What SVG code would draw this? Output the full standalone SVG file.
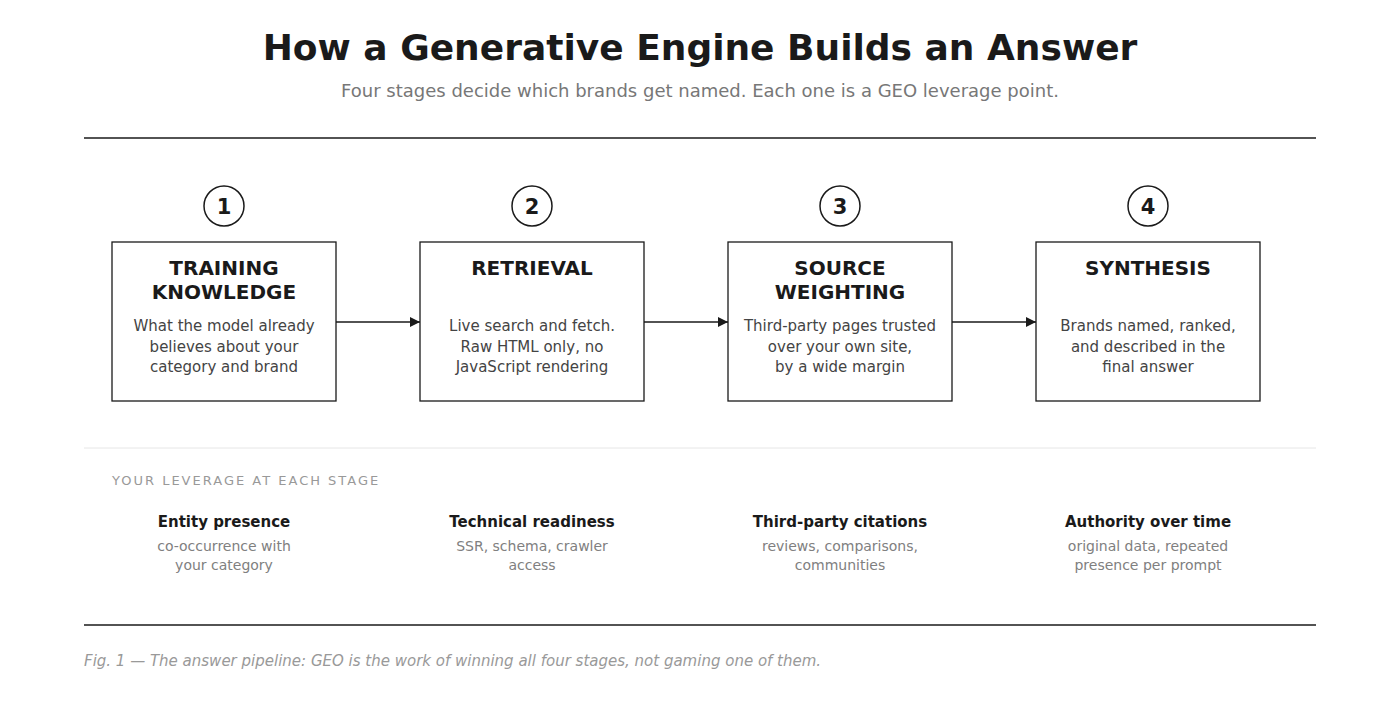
<svg xmlns="http://www.w3.org/2000/svg" width="1400" height="728" viewBox="0 0 1400 728">
<style>
text{font-family:"DejaVu Sans","Noto Sans",sans-serif;text-anchor:middle}
.t{font-size:36px;font-weight:bold;fill:#1a1a1a}
.sub{font-size:18px;fill:#777}
.num{font-size:21px;font-weight:bold;fill:#1a1a1a}
.h{font-size:20px;font-weight:bold;fill:#1a1a1a}
.b{font-size:15px;fill:#444}
.lh{font-size:15px;font-weight:bold;fill:#1a1a1a}
.ls{font-size:14px;fill:#808080}
.box{fill:#fff;stroke:#1a1a1a;stroke-width:1.3}
.circ{fill:#fff;stroke:#1a1a1a;stroke-width:1.5}
.conn{stroke:#1a1a1a;stroke-width:1.3;fill:none}
</style>
<defs><marker id="ar" markerWidth="10" markerHeight="10" refX="10" refY="5" orient="auto" markerUnits="userSpaceOnUse"><path d="M0,0 L10,5 L0,10 Z" fill="#1a1a1a"/></marker></defs>
<rect width="1400" height="728" fill="#fff"/>
<text class="t" x="700" y="60">How a Generative Engine Builds an Answer</text>
<text class="sub" x="700" y="97">Four stages decide which brands get named. Each one is a GEO leverage point.</text>
<line x1="84" y1="138" x2="1316" y2="138" stroke="#1a1a1a" stroke-width="1.5"/>
<g id="connectors">
<line class="conn" x1="336" y1="322" x2="420" y2="322" marker-end="url(#ar)"/>
<line class="conn" x1="644" y1="322" x2="728" y2="322" marker-end="url(#ar)"/>
<line class="conn" x1="952" y1="322" x2="1036" y2="322" marker-end="url(#ar)"/>
</g>
<g id="n1"><circle class="circ" cx="224" cy="206" r="20"/><text class="num" x="224" y="214">1</text>
<rect class="box" x="112" y="242" width="224" height="159"/>
<text class="h" x="224" y="275">TRAINING</text><text class="h" x="224" y="299">KNOWLEDGE</text>
<text class="b" x="224" y="331">What the model already</text><text class="b" x="224" y="352">believes about your</text><text class="b" x="224" y="372">category and brand</text></g>
<g id="n2"><circle class="circ" cx="532" cy="206" r="20"/><text class="num" x="532" y="214">2</text>
<rect class="box" x="420" y="242" width="224" height="159"/>
<text class="h" x="532" y="275">RETRIEVAL</text>
<text class="b" x="532" y="331">Live search and fetch.</text><text class="b" x="532" y="352">Raw HTML only, no</text><text class="b" x="532" y="372">JavaScript rendering</text></g>
<g id="n3"><circle class="circ" cx="840" cy="206" r="20"/><text class="num" x="840" y="214">3</text>
<rect class="box" x="728" y="242" width="224" height="159"/>
<text class="h" x="840" y="275">SOURCE</text><text class="h" x="840" y="299">WEIGHTING</text>
<text class="b" x="840" y="331">Third-party pages trusted</text><text class="b" x="840" y="352">over your own site,</text><text class="b" x="840" y="372">by a wide margin</text></g>
<g id="n4"><circle class="circ" cx="1148" cy="206" r="20"/><text class="num" x="1148" y="214">4</text>
<rect class="box" x="1036" y="242" width="224" height="159" stroke-width="2.5"/>
<text class="h" x="1148" y="275">SYNTHESIS</text>
<text class="b" x="1148" y="331">Brands named, ranked,</text><text class="b" x="1148" y="352">and described in the</text><text class="b" x="1148" y="372">final answer</text></g>
<line x1="84" y1="448" x2="1316" y2="448" stroke="#e6e6e6" stroke-width="1"/>
<text x="112" y="485" style="text-anchor:start;font-size:13px;letter-spacing:2px;fill:#999">YOUR LEVERAGE AT EACH STAGE</text>
<g id="l1"><text class="lh" x="224" y="527">Entity presence</text><text class="ls" x="224" y="551">co-occurrence with</text><text class="ls" x="224" y="570">your category</text></g>
<g id="l2"><text class="lh" x="532" y="527">Technical readiness</text><text class="ls" x="532" y="551">SSR, schema, crawler</text><text class="ls" x="532" y="570">access</text></g>
<g id="l3"><text class="lh" x="840" y="527">Third-party citations</text><text class="ls" x="840" y="551">reviews, comparisons,</text><text class="ls" x="840" y="570">communities</text></g>
<g id="l4"><text class="lh" x="1148" y="527">Authority over time</text><text class="ls" x="1148" y="551">original data, repeated</text><text class="ls" x="1148" y="570">presence per prompt</text></g>
<line x1="84" y1="625" x2="1316" y2="625" stroke="#1a1a1a" stroke-width="1.5"/>
<text x="84" y="666" style="text-anchor:start;font-size:15px;font-style:italic;fill:#999">Fig. 1 — The answer pipeline: GEO is the work of winning all four stages, not gaming one of them.</text>
</svg>
